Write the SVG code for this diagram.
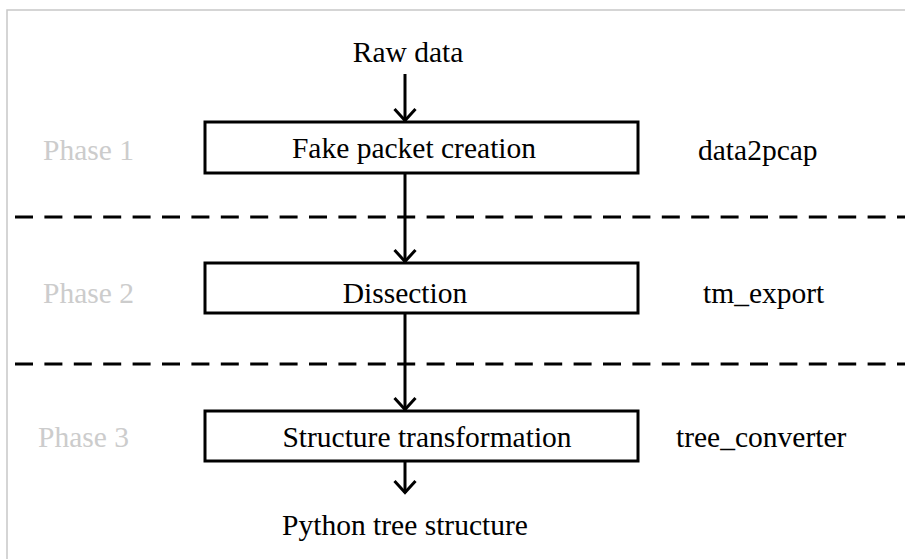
<svg xmlns="http://www.w3.org/2000/svg" width="905" height="559" viewBox="0 0 905 559">
  <style>
    .phase { fill: #cccccc; }
    .mid { text-anchor: middle; }
    .box rect { fill: #fff; stroke: #000; stroke-width: 3; }
    .flow { stroke: #000; stroke-width: 3; fill: none; }
    .sep { stroke: #000; stroke-width: 3; stroke-dasharray: 18 11.4; }
  </style>
  <defs>
    <marker id="chev" viewBox="0 0 24 16" refX="12" refY="14" markerWidth="24" markerHeight="16" markerUnits="userSpaceOnUse" orient="0">
      <path d="M1.5 2 L12 13.5 L22.5 2" fill="none" stroke="#000" stroke-width="3"/>
    </marker>
  </defs>

  <rect width="905" height="559" fill="#fff"/>
  <!-- frame edges -->
  <path d="M7 559 V10 H905" fill="none" stroke="#c8c8c8" stroke-width="1.5"/>

  <!-- phase separators -->
  <g id="separators">
    <line class="sep" x1="15" y1="217" x2="905" y2="217"/>
    <line class="sep" x1="15" y1="364" x2="905" y2="364"/>
  </g>

  <!-- connectors -->
  <g id="connectors">
    <line class="flow" x1="405" y1="74" x2="405" y2="121" marker-end="url(#chev)"/>
    <line class="flow" x1="405" y1="173" x2="405" y2="262" marker-end="url(#chev)"/>
    <line class="flow" x1="405" y1="313" x2="405" y2="410" marker-end="url(#chev)"/>
    <line class="flow" x1="405" y1="461" x2="405" y2="493" marker-end="url(#chev)"/>
  </g>

  <g font-family="'Liberation Serif', serif" font-size="29.5" fill="#000">
    <g id="input">
      <text class="mid" x="408" y="62">Raw data</text>
    </g>

    <g id="phase1" class="box">
      <rect x="205" y="122" width="433" height="51"/>
      <text class="mid" x="414" y="158">Fake packet creation</text>
    </g>
    <g id="phase2" class="box">
      <rect x="205" y="263" width="433" height="50"/>
      <text class="mid" x="405" y="303">Dissection</text>
    </g>
    <g id="phase3" class="box">
      <rect x="205" y="411" width="433" height="50"/>
      <text class="mid" x="427" y="447">Structure transformation</text>
    </g>

    <g id="output">
      <text class="mid" x="405" y="535">Python tree structure</text>
    </g>

    <g id="phase-labels">
      <text class="phase" x="43" y="160">Phase 1</text>
      <text class="phase" x="43" y="303">Phase 2</text>
      <text class="phase" x="38" y="447">Phase 3</text>
    </g>

    <g id="tool-labels">
      <text x="698" y="160">data2pcap</text>
      <text x="703" y="303">tm_export</text>
      <text x="676" y="447">tree_converter</text>
    </g>
  </g>
</svg>
